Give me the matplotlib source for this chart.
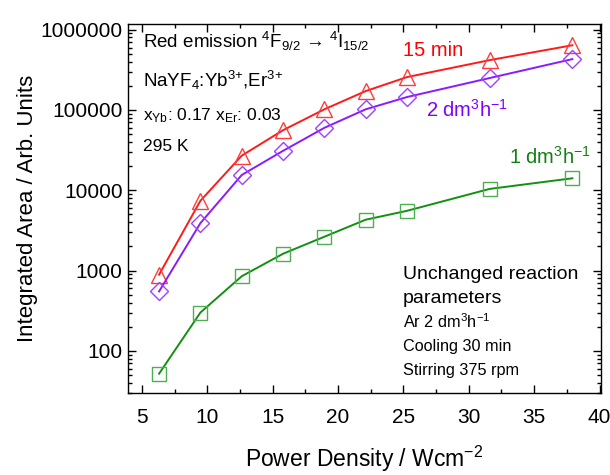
import numpy as np
import matplotlib
matplotlib.use("Agg")
import matplotlib.pyplot as plt
from matplotlib.ticker import LogLocator, MultipleLocator, NullFormatter

plt.rcParams['font.family'] = ['Liberation Sans', 'DejaVu Sans']
plt.rcParams['mathtext.default'] = 'regular'

# power density (W cm^-2)
power = [6.32, 9.48, 12.64, 15.8, 18.96, 22.12, 25.28, 31.6, 37.92]

# integrated areas
area_15min = [890, 7400, 27000, 56000, 102000, 172000, 257000, 418000, 640000]
area_2dm = [550, 3900, 15500, 31000, 60000, 102000, 145000, 250000, 430000]
area_1dm = [52, 300, 850, 1620, 2640, 4300, 5550, 10400, 14100]

fig = plt.figure(figsize=(6.1, 4.75), dpi=100)
ax = fig.add_axes([0.21, 0.173, 0.775, 0.776])

ax.plot(power, area_15min, color='#ff1a1a', lw=1.4, marker='^', ms=11,
        mfc='none', mec='#ff3b3b', mew=1.0)
ax.plot(power, area_2dm, color='#8a1aff', lw=1.4, marker='D', ms=9,
        mfc='none', mec='#a040ff', mew=1.0)
ax.plot(power, area_1dm, color='#119011', lw=1.4, marker='s', ms=10,
        mfc='none', mec='#4caf50', mew=1.0)

ax.set_yscale('log')
ax.set_xlim(3.95, 40.1)
ax.set_ylim(30, 1.17e6)

ax.xaxis.set_major_locator(MultipleLocator(5))
ax.xaxis.set_minor_locator(MultipleLocator(2.5))
ax.yaxis.set_minor_locator(LogLocator(base=10, subs=np.arange(2, 10), numticks=20))
ax.yaxis.set_minor_formatter(NullFormatter())
ax.set_yticks([100, 1000, 10000, 100000, 1000000])
ax.set_yticklabels(['100', '1000', '10000', '100000', '1000000'])

ax.tick_params(which='both', direction='in', top=True, right=True, labelsize=15)
ax.tick_params(which='major', length=6, width=1)
ax.tick_params(which='minor', length=3, width=1)
ax.tick_params(axis='x', pad=11)
ax.tick_params(axis='y', pad=4)
for s in ax.spines.values():
    s.set_linewidth(1.0)

ax.set_xlabel('Power Density / Wcm$^{{-}2}$', fontsize=16.5, labelpad=12)
ax.set_ylabel('Integrated Area / Arb. Units', fontsize=16, labelpad=2)

tr = ax.transAxes
ax.text(0.032, 0.952, 'Red emission $^4$F$_{9/2}$ \u2192 $^4$I$_{15/2}$',
        transform=tr, fontsize=13.5, va='center')
ax.text(0.032, 0.848, 'NaYF$_4$:Yb$^{3{+}}$,Er$^{3{+}}$', transform=tr,
        fontsize=13.5, va='center')
ax.text(0.032, 0.753, 'x$_{Yb}$: 0.17 x$_{Er}$: 0.03', transform=tr,
        fontsize=12.5, va='center')
ax.text(0.032, 0.667, '295 K', transform=tr, fontsize=12.5, va='center')

ax.text(0.581, 0.93, '15 min', transform=tr, fontsize=14.5, color='#ff0000',
        va='center')
ax.text(0.63, 0.767, '2 dm$^3$h$^{{-}1}$', transform=tr, fontsize=14.5,
        color='#8000ff', va='center')
ax.text(0.805, 0.640, '1 dm$^3$h$^{{-}1}$', transform=tr, fontsize=14.5,
        color='#108010', va='center')

ax.text(0.581, 0.320, 'Unchanged reaction', transform=tr, fontsize=14,
        va='center')
ax.text(0.581, 0.257, 'parameters', transform=tr, fontsize=14, va='center')
ax.text(0.581, 0.193, 'Ar 2 dm$^3$h$^{{-}1}$', transform=tr, fontsize=11.7,
        va='center')
ax.text(0.581, 0.125, 'Cooling 30 min', transform=tr, fontsize=11.7,
        va='center')
ax.text(0.581, 0.060, 'Stirring 375 rpm', transform=tr, fontsize=11.7,
        va='center')

fig.savefig('out.png', dpi=100)
